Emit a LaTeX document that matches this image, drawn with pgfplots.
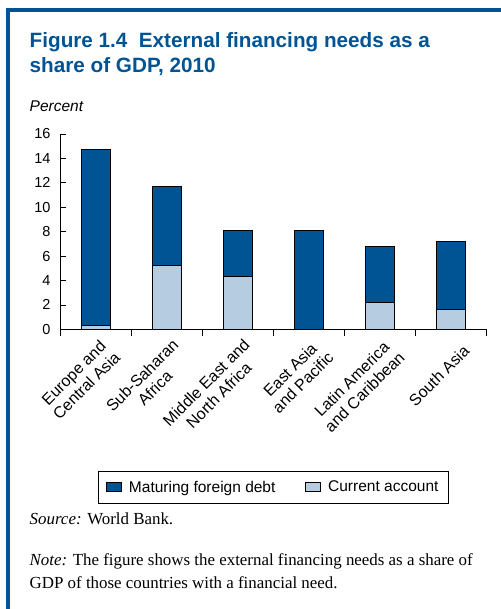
\documentclass[border=0pt]{standalone}
\usepackage{fontspec}
\setmainfont{Liberation Sans}
\newfontfamily\notefont{Liberation Serif}
\usepackage{pgfplots}
\pgfplotsset{compat=1.18}
\definecolor{wbblue}{RGB}{0,84,147}
\definecolor{darkbar}{RGB}{0,84,147}
\definecolor{lightbar}{RGB}{182,204,224}
\begin{document}
\begin{tikzpicture}
\useasboundingbox (0,0) rectangle (501bp,609bp);
\fill[wbblue] (6bp,0) rectangle (10bp,601bp);
\fill[wbblue] (6bp,597bp) rectangle (501bp,601bp);
\node[anchor=base west, inner sep=0, text=wbblue, font=\fontsize{20.7bp}{25bp}\selectfont\bfseries] at (29.5bp,561.3bp) {Figure 1.4\hspace{0.55em}External financing needs as a};
\node[anchor=base west, inner sep=0, text=wbblue, font=\fontsize{20.7bp}{25bp}\selectfont\bfseries] at (29.5bp,536.3bp) {share of GDP, 2010};
\node[anchor=base west, inner sep=0, font=\fontsize{15.5bp}{18bp}\selectfont\itshape] at (29.5bp,497.3bp) {Percent};
\begin{axis}[
  at={(60bp,279.7bp)}, anchor=south west, scale only axis,
  width=426.7bp, height=195.3bp,
  xmin=-0.5, xmax=5.5, ymin=0, ymax=16,
  axis lines=left, axis line style={-, line width=0.75bp},
  ytick={0,2,...,16}, ytick align=inside, xtick align=outside,
  major tick length=6bp, minor tick length=7bp,
  major y tick style={line width=0.75bp, black},
  xtick={0,...,5}, major x tick style={draw=none},
  minor xtick={-0.5,0.5,...,5.5}, minor x tick style={line width=0.75bp, black},
  xticklabels={{Europe and\\Central Asia},{Sub-Saharan\\Africa},{Middle East and\\North Africa},{East Asia\\and Pacific},{Latin America\\and Caribbean},{South Asia}},
  x tick label style={rotate=45, anchor=east, align=center, font=\fontsize{16bp}{18bp}\selectfont, xshift=5bp, yshift=-20bp},
  y tick label style={font=\fontsize{14.5bp}{16bp}\selectfont, xshift=-6bp},
  /pgf/number format/assume math mode=true,
  ybar stacked, bar width=29bp,
  legend style={at={(0.5,-0.7256)}, anchor=north, legend columns=2, draw=black, line width=0.75bp,
    font=\fontsize{15.5bp}{18bp}\selectfont, inner xsep=8bp, inner ysep=7.5bp,
    /tikz/every odd column/.append style={column sep=5bp},
    /tikz/every even column/.append style={column sep=28bp}},
  legend image code/.code={\draw[#1, line width=0.75bp] (0bp,-4.5bp) rectangle (15bp,4.5bp);},
  reverse legend,
]
\addplot[fill=lightbar, draw=black, line width=0.75bp] coordinates {(0,0.3) (1,5.2) (2,4.3) (3,0) (4,2.2) (5,1.6)};
\addplot[fill=darkbar, draw=black, line width=0.75bp] coordinates {(0,14.4) (1,6.5) (2,3.8) (3,8.1) (4,4.6) (5,5.6)};
\legend{Current account, Maturing foreign debt}
\end{axis}
\node[anchor=base west, inner sep=0, font=\notefont\fontsize{16.9bp}{20bp}\selectfont] at (29.5bp,84bp) {\textit{Source:} World Bank.};
\node[anchor=base west, inner sep=0, font=\notefont\fontsize{16.9bp}{20bp}\selectfont] at (29.5bp,43bp) {\textit{Note:} The figure shows the external financing needs as a share of};
\node[anchor=base west, inner sep=0, font=\notefont\fontsize{16.9bp}{20bp}\selectfont] at (29.5bp,21bp) {GDP of those countries with a financial need.};
\end{tikzpicture}
\end{document}
